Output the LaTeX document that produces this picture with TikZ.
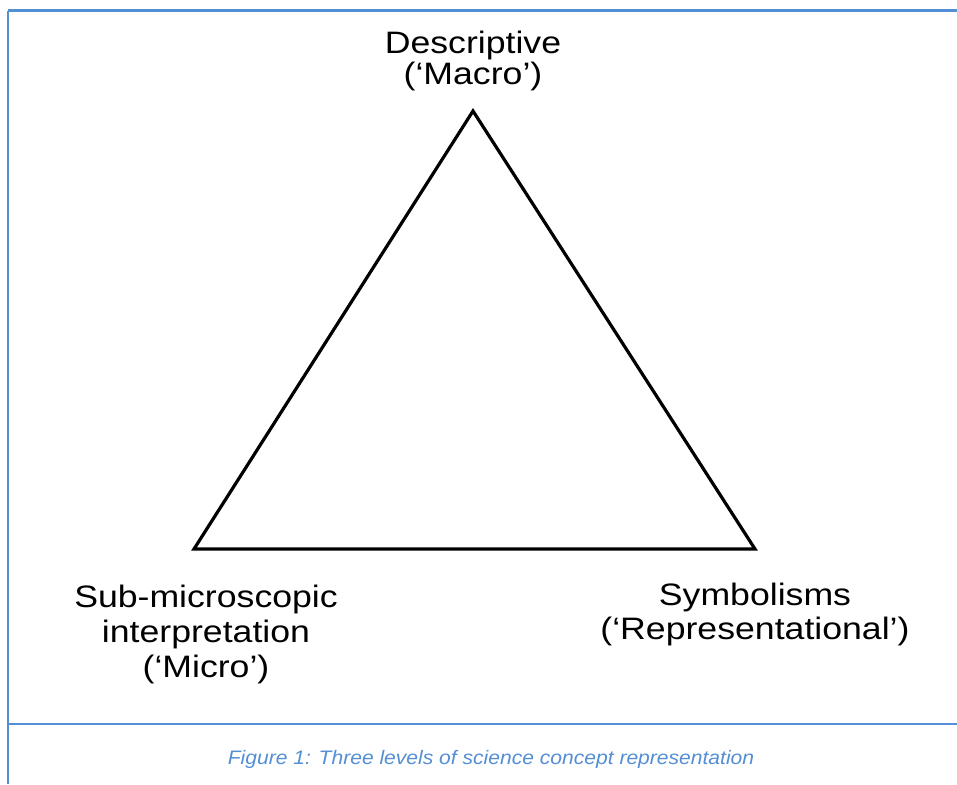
\documentclass[tikz,border=0pt]{standalone}
\usepackage{fontspec}
\setmainfont[FakeStretch=1.15]{Liberation Sans}
\newfontfamily\capfont[FakeStretch=1.08]{Liberation Sans}
\definecolor{wordblue}{RGB}{84,142,212}
\tikzset{
  frameline/.style={draw=wordblue, line width=2pt},
  triline/.style={draw=black, line width=3.2pt, line join=miter},
  lbl/.style={inner sep=0pt, align=center, font=\fontsize{31}{35}\selectfont},
  caption/.style={inner sep=0pt, text=wordblue, font=\capfont\itshape\fontsize{19.5}{22}\selectfont}
}
\begin{document}
\begin{tikzpicture}[x=1pt,y=-1pt]
\useasboundingbox (0,0) rectangle (957,784);
% frame
\coordinate (ftl) at (8,11);
\coordinate (ftr) at (957,11);
\coordinate (fbl) at (8,784);
\coordinate (sl) at (8,724);
\coordinate (sr) at (957,724);
\draw[frameline, line width=3pt] (ftl) -- (ftr);
\draw[frameline] (ftl) -- (fbl);
\draw[frameline] (sl) -- (sr);
% triangle
\coordinate (top) at (473,111);
\coordinate (bl) at (194,549);
\coordinate (br) at (755,549);
\draw[triline] (top) -- (bl) -- (br) -- cycle;
% labels (base anchor = baseline of the last line)
\node[lbl, anchor=base, font=\fontsize{31}{31}\selectfont] (macro) at (473,84) {Descriptive\\(‘Macro’)};
\node[lbl, anchor=base] (micro) at (206,677) {Sub-microscopic\\interpretation\hspace*{26pt}\\(‘Micro’)};
\node[lbl, anchor=base, font=\fontsize{31}{34}\selectfont] (symb) at (755,639) {Symbolisms\\(‘Representational’)};
% caption
\node[caption, anchor=base] (cap) at (491,764) {Figure 1: Three levels of science concept representation};
\end{tikzpicture}
\end{document}
